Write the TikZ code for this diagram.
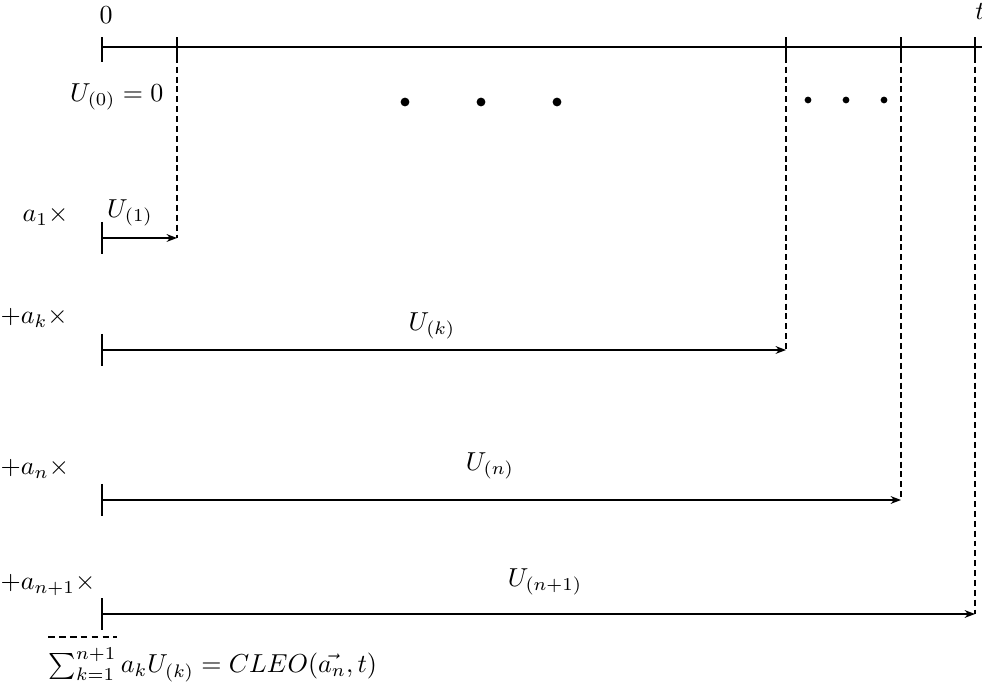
\documentclass[tikz,border=0pt]{standalone}
\usetikzlibrary{arrows.meta}
\begin{document}
\begin{tikzpicture}[x=0.385pt,y=-0.385pt, line width=0.55pt,
  arr/.style={-{Stealth[length=4pt,width=3pt]}},
  dsh/.style={dash pattern=on 2.3pt off 1.5pt},
  lbl/.style={inner sep=0pt},
  dotb/.style={circle,fill,inner sep=0pt,minimum size=3.4pt},
  dots/.style={circle,fill,inner sep=0pt,minimum size=2.6pt}]
\useasboundingbox (0,0) rectangle (982,693);
% axis
\coordinate (A0) at (102,47);
\coordinate (A1) at (177,47);
\coordinate (Ak) at (786,47);
\coordinate (An) at (901,47);
\coordinate (At) at (975,47);
\coordinate (Aend) at (982,47);
\draw (A0) -- (Aend);
\foreach \c in {A0,A1,Ak,An,At} \draw ([yshift=-15*0.385pt]\c) -- ([yshift=10*0.385pt]\c);
\draw ([yshift=-5*0.385pt]A1) -- ([yshift=-15*0.385pt]A1);
\node[lbl] (zero) at (106,15) {$0$};
\node[lbl] (tl) at (980,12) {$t$};
\node[lbl,anchor=east] (u0) at (164,97) {$U_{(0)}=0$};
% dots
\node[dotb] (d1) at (405,102) {};
\node[dotb] (d2) at (481,102) {};
\node[dotb] (d3) at (557,102) {};
\node[dots] (e1) at (808,100) {};
\node[dots] (e2) at (846,100) {};
\node[dots] (e3) at (884,100) {};
% rows
\coordinate (S1) at (102,238); \coordinate (E1) at (177,238);
\coordinate (Sk) at (102,350); \coordinate (Ek) at (786,350);
\coordinate (Sn) at (102,500); \coordinate (En) at (901,500);
\coordinate (Sm) at (102,614); \coordinate (Em) at (975,614);
\foreach \s/\e in {S1/E1,Sk/Ek,Sn/En,Sm/Em}{
  \draw[arr] (\s) -- (\e);
  \draw ([yshift=16*0.385pt]\s) -- ([yshift=-16*0.385pt]\s);
}
\draw[dsh] (A1) -- (E1);
\draw[dsh] (Ak) -- (Ek);
\draw[dsh] (An) -- (En);
\draw[dsh] (At) -- (Em);
\node[lbl,anchor=west] (a1) at (22,216) {$a_1\times$};
\node[lbl] (u1) at (130,213) {$U_{(1)}$};
\node[lbl,anchor=west] (ak) at (0,318) {$+a_k\times$};
\node[lbl] (uk) at (432,326) {$U_{(k)}$};
\node[lbl,anchor=west] (an) at (0,469) {$+a_n\times$};
\node[lbl] (un) at (490,466) {$U_{(n)}$};
\node[lbl,anchor=west] (am) at (0,585) {$+a_{n+1}\times$};
\node[lbl] (um) at (545,582) {$U_{(n+1)}$};
\coordinate (L1) at (48,637); \coordinate (L2) at (117,637);
\draw[dash pattern=on 2.6pt off 1.6pt] (L1) -- (L2);
\node[lbl,anchor=west] (sum) at (48,665) {$\sum_{k=1}^{n+1} a_kU_{(k)}=CLEO(\vec{a_n},t)$};
\end{tikzpicture}
\end{document}
